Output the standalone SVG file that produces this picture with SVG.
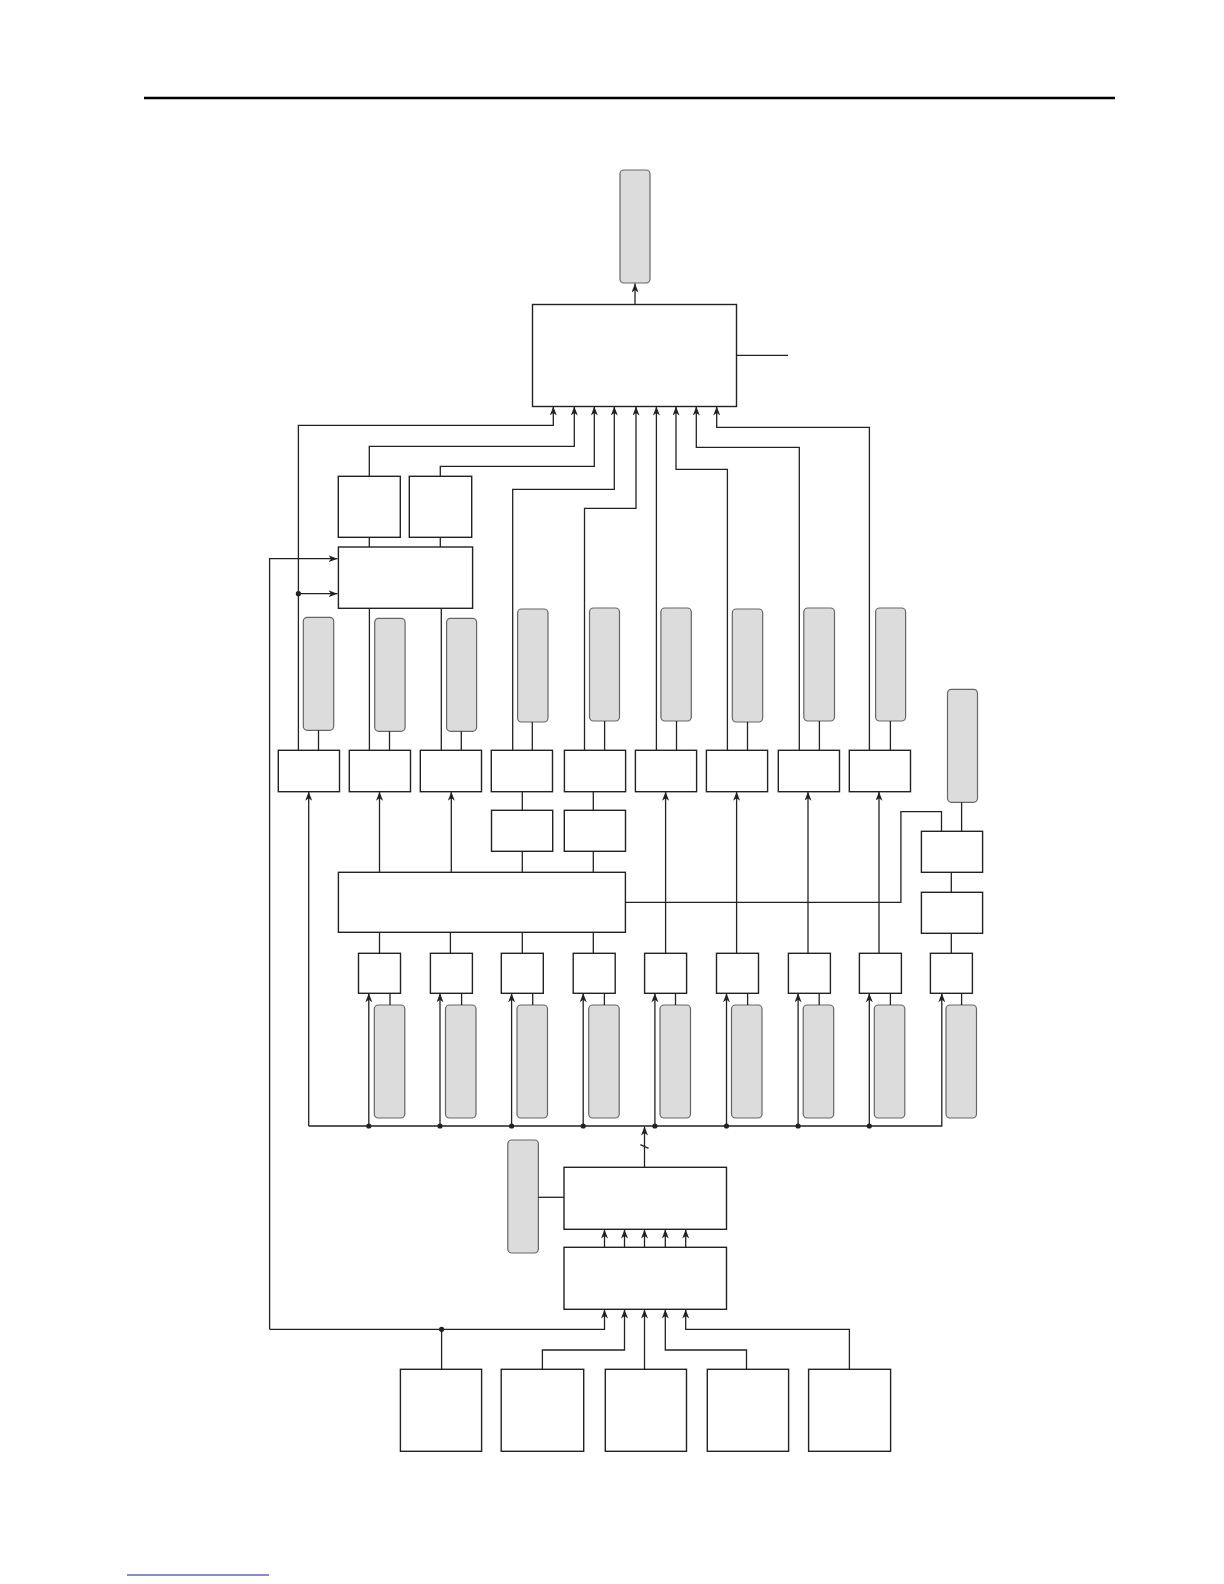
<svg xmlns="http://www.w3.org/2000/svg" width="1224" height="1584" viewBox="0 0 1224 1584">
<defs>
<style>
.box{fill:#fff;stroke:#222;stroke-width:1.4}
.gray{fill:#dcdcdc;stroke:#666;stroke-width:1.2}
.ln{fill:none;stroke:#222;stroke-width:1.3}
.arr{fill:none;stroke:#222;stroke-width:1.3;marker-end:url(#ah)}
.dot{fill:#222}
</style>
<marker id="ah" markerUnits="userSpaceOnUse" markerWidth="10" markerHeight="8" refX="9" refY="3.5" orient="auto">
<path d="M0,0 L9,3.5 L0,7 L2.5,3.5 z" fill="#222"/>
</marker>
</defs>
<rect width="1224" height="1584" fill="#fff"/>
<line x1="144" y1="98" x2="1115" y2="98" stroke="#000" stroke-width="2.5"/>
<line x1="127" y1="1575" x2="269" y2="1575" stroke="#1a1a8c" stroke-width="1.2"/>

<g id="nodes">
<rect id="g0" class="gray" x="620" y="170" width="30" height="113" rx="4"/>
<rect id="main" class="box" x="532.5" y="304.5" width="204" height="102"/>
<rect id="boxA" class="box" x="338.3" y="476.3" width="62" height="61"/>
<rect id="boxB" class="box" x="409.3" y="476.3" width="62.4" height="61"/>
<rect id="boxC" class="box" x="338.4" y="547" width="134.2" height="61.3"/>
<g id="grayRow1">
<rect id="g1" class="gray" x="303.3" y="617.3" width="30.4" height="113" rx="4"/>
<rect id="g2" class="gray" x="374.7" y="618.3" width="30.4" height="113" rx="4"/>
<rect id="g3" class="gray" x="446.6" y="618.3" width="30" height="113" rx="4"/>
<rect id="g4" class="gray" x="517.6" y="609" width="30.4" height="113" rx="4"/>
<rect id="g5" class="gray" x="589.5" y="608" width="30" height="113" rx="4"/>
<rect id="g6" class="gray" x="660.9" y="608" width="30.4" height="113" rx="4"/>
<rect id="g7" class="gray" x="732.3" y="609" width="30.4" height="113" rx="4"/>
<rect id="g8" class="gray" x="803.8" y="608" width="30.7" height="113" rx="4"/>
<rect id="g9" class="gray" x="875.6" y="608" width="30" height="113" rx="4"/>
<rect id="gR" class="gray" x="947.5" y="689.3" width="30" height="113" rx="4"/>
</g>
<g id="upperRow">
<rect id="u1" class="box" x="278.3" y="750.3" width="61.2" height="41.4"/>
<rect id="u2" class="box" x="349.3" y="750.3" width="61.2" height="41.4"/>
<rect id="u3" class="box" x="420.3" y="750.3" width="61.2" height="41.4"/>
<rect id="u4" class="box" x="491.3" y="750.3" width="61.2" height="41.4"/>
<rect id="u5" class="box" x="564.4" y="750.3" width="61.2" height="41.4"/>
<rect id="u6" class="box" x="635.4" y="750.3" width="61.2" height="41.4"/>
<rect id="u7" class="box" x="706.4" y="750.3" width="61.2" height="41.4"/>
<rect id="u8" class="box" x="778.3" y="750.3" width="61.2" height="41.4"/>
<rect id="u9" class="box" x="849.3" y="750.3" width="61.2" height="41.4"/>
</g>
<rect id="u4b" class="box" x="491.5" y="810.3" width="61.2" height="41"/>
<rect id="u5b" class="box" x="564.3" y="810.3" width="61.2" height="41"/>
<rect id="boxD" class="box" x="338.4" y="872.3" width="287" height="60"/>
<rect id="boxE" class="box" x="921.4" y="831.3" width="61.2" height="41"/>
<rect id="boxF" class="box" x="921.4" y="892.3" width="61.2" height="41"/>
<g id="lowerRow">
<rect id="l1" class="box" x="358.5" y="953.3" width="42" height="40"/>
<rect id="l2" class="box" x="430.4" y="953.3" width="42" height="40"/>
<rect id="l3" class="box" x="501.3" y="953.3" width="42" height="40"/>
<rect id="l4" class="box" x="573.2" y="953.3" width="42" height="40"/>
<rect id="l5" class="box" x="644.6" y="953.3" width="42" height="40"/>
<rect id="l6" class="box" x="716.5" y="953.3" width="42" height="40"/>
<rect id="l7" class="box" x="788.4" y="953.3" width="42" height="40"/>
<rect id="l8" class="box" x="859.4" y="953.3" width="42" height="40"/>
<rect id="l9" class="box" x="930.4" y="953.3" width="42" height="40"/>
</g>
<g id="grayRow2">
<rect id="lg1" class="gray" x="374.3" y="1005" width="30.5" height="113" rx="4"/>
<rect id="lg2" class="gray" x="445.5" y="1005" width="30.5" height="113" rx="4"/>
<rect id="lg3" class="gray" x="517" y="1005" width="30.5" height="113" rx="4"/>
<rect id="lg4" class="gray" x="588.7" y="1005" width="30.5" height="113" rx="4"/>
<rect id="lg5" class="gray" x="660" y="1005" width="30.5" height="113" rx="4"/>
<rect id="lg6" class="gray" x="731.5" y="1005" width="30.5" height="113" rx="4"/>
<rect id="lg7" class="gray" x="803.2" y="1005" width="30.5" height="113" rx="4"/>
<rect id="lg8" class="gray" x="874.3" y="1005" width="30.5" height="113" rx="4"/>
<rect id="lg9" class="gray" x="946" y="1005" width="30.5" height="113" rx="4"/>
</g>
<rect id="gH" class="gray" x="507.8" y="1140" width="30.6" height="113" rx="4"/>
<rect id="boxH" class="box" x="564" y="1167.3" width="162.5" height="62"/>
<rect id="boxI" class="box" x="564" y="1247.3" width="162.5" height="62"/>
<rect id="j1" class="box" x="400.4" y="1369.3" width="81.2" height="82"/>
<rect id="j2" class="box" x="501.2" y="1369.3" width="82.5" height="82"/>
<rect id="j3" class="box" x="605.3" y="1369.3" width="81.2" height="82"/>
<rect id="j4" class="box" x="707.3" y="1369.3" width="81.3" height="82"/>
<rect id="j5" class="box" x="808.6" y="1369.3" width="82" height="82"/>
</g>

<g id="connectors">
<line class="arr" x1="635" y1="304.5" x2="635" y2="283.5"/>
<line class="ln" x1="736.5" y1="355.3" x2="788" y2="355.3"/>
<polyline class="arr" points="298.4,750.3 298.4,425.3 553.3,425.3 553.3,406.5"/>
<polyline class="arr" points="369.3,476.3 369.3,446.3 574.3,446.3 574.3,406.5"/>
<polyline class="arr" points="440.3,476.3 440.3,466.3 594.3,466.3 594.3,406.5"/>
<polyline class="arr" points="512.7,750.3 512.7,489.3 614.3,489.3 614.3,406.5"/>
<polyline class="arr" points="584.5,750.3 584.5,508.3 636,508.3 636,406.5"/>
<line class="arr" x1="656.4" y1="750.3" x2="656.4" y2="406.5"/>
<polyline class="arr" points="727.4,750.3 727.4,469.3 676,469.3 676,406.5"/>
<polyline class="arr" points="799.3,750.3 799.3,447.3 696.3,447.3 696.3,406.5"/>
<polyline class="arr" points="869.4,750.3 869.4,427.3 716.7,427.3 716.7,406.5"/>
<line class="ln" x1="369.3" y1="537.3" x2="369.3" y2="547"/>
<line class="ln" x1="440.3" y1="537.3" x2="440.3" y2="547"/>
<line class="ln" x1="369.4" y1="608.3" x2="369.4" y2="750.3"/>
<line class="ln" x1="441.3" y1="608.3" x2="441.3" y2="750.3"/>
<line class="ln" x1="318.5" y1="730.3" x2="318.5" y2="750.3"/>
<line class="ln" x1="389.5" y1="731.3" x2="389.5" y2="750.3"/>
<line class="ln" x1="461.3" y1="731.3" x2="461.3" y2="750.3"/>
<line class="ln" x1="532.3" y1="722" x2="532.3" y2="750.3"/>
<line class="ln" x1="604.6" y1="721" x2="604.6" y2="750.3"/>
<line class="ln" x1="676.5" y1="721" x2="676.5" y2="750.3"/>
<line class="ln" x1="747.5" y1="722" x2="747.5" y2="750.3"/>
<line class="ln" x1="819.4" y1="721" x2="819.4" y2="750.3"/>
<line class="ln" x1="890.4" y1="721" x2="890.4" y2="750.3"/>
<polyline class="arr" points="269.6,1329.3 269.6,558.7 337.5,558.7"/>
<line class="arr" x1="298.4" y1="593.7" x2="337.5" y2="593.7"/>
<circle class="dot" cx="298.4" cy="593.7" r="2.6"/>
<line class="ln" x1="522.3" y1="791.7" x2="522.3" y2="810.3"/>
<line class="ln" x1="522.3" y1="851.3" x2="522.3" y2="872.3"/>
<line class="ln" x1="593.3" y1="791.7" x2="593.3" y2="810.3"/>
<line class="ln" x1="593.3" y1="851.3" x2="593.3" y2="872.3"/>
<line class="arr" x1="379.5" y1="872.3" x2="379.5" y2="791.7"/>
<line class="arr" x1="451.3" y1="872.3" x2="451.3" y2="791.7"/>
<polyline class="ln" points="625.4,902.3 900.9,902.3 900.9,811.7 941.5,811.7 941.5,831.3"/>
<line class="ln" x1="961.6" y1="802.3" x2="961.6" y2="831.3"/>
<line class="ln" x1="951.3" y1="872.3" x2="951.3" y2="892.3"/>
<line class="ln" x1="951.3" y1="933.3" x2="951.3" y2="953.3"/>
<line class="ln" x1="379.5" y1="932.3" x2="379.5" y2="953.3"/>
<line class="ln" x1="450.4" y1="932.3" x2="450.4" y2="953.3"/>
<line class="ln" x1="522.3" y1="932.3" x2="522.3" y2="953.3"/>
<line class="ln" x1="593.3" y1="932.3" x2="593.3" y2="953.3"/>
<line class="arr" x1="665.6" y1="953.3" x2="665.6" y2="791.7"/>
<line class="arr" x1="736.6" y1="953.3" x2="736.6" y2="791.7"/>
<line class="arr" x1="808" y1="953.3" x2="808" y2="791.7"/>
<line class="arr" x1="879" y1="953.3" x2="879" y2="791.7"/>
<polyline class="arr" points="308.7,1126 308.7,791.7"/>
<polyline class="arr" points="308.7,1126 941.8,1126 941.8,993.3"/>
<line class="arr" x1="368.8" y1="1126" x2="368.8" y2="993.3"/>
<line class="arr" x1="440" y1="1126" x2="440" y2="993.3"/>
<line class="arr" x1="511.6" y1="1126" x2="511.6" y2="993.3"/>
<line class="arr" x1="583.2" y1="1126" x2="583.2" y2="993.3"/>
<line class="arr" x1="654.9" y1="1126" x2="654.9" y2="993.3"/>
<line class="arr" x1="726.5" y1="1126" x2="726.5" y2="993.3"/>
<line class="arr" x1="798.1" y1="1126" x2="798.1" y2="993.3"/>
<line class="arr" x1="869.3" y1="1126" x2="869.3" y2="993.3"/>
<circle class="dot" cx="368.8" cy="1126" r="2.6"/>
<circle class="dot" cx="440" cy="1126" r="2.6"/>
<circle class="dot" cx="511.6" cy="1126" r="2.6"/>
<circle class="dot" cx="583.2" cy="1126" r="2.6"/>
<circle class="dot" cx="654.9" cy="1126" r="2.6"/>
<circle class="dot" cx="726.5" cy="1126" r="2.6"/>
<circle class="dot" cx="798.1" cy="1126" r="2.6"/>
<circle class="dot" cx="869.3" cy="1126" r="2.6"/>
<line class="ln" x1="390" y1="993.3" x2="390" y2="1005"/>
<line class="ln" x1="461.6" y1="993.3" x2="461.6" y2="1005"/>
<line class="ln" x1="532.7" y1="993.3" x2="532.7" y2="1005"/>
<line class="ln" x1="604.4" y1="993.3" x2="604.4" y2="1005"/>
<line class="ln" x1="675.5" y1="993.3" x2="675.5" y2="1005"/>
<line class="ln" x1="747.6" y1="993.3" x2="747.6" y2="1005"/>
<line class="ln" x1="819.2" y1="993.3" x2="819.2" y2="1005"/>
<line class="ln" x1="890.4" y1="993.3" x2="890.4" y2="1005"/>
<line class="ln" x1="961.6" y1="993.3" x2="961.6" y2="1005"/>
<line class="arr" x1="644.5" y1="1167.3" x2="644.5" y2="1126.5"/>
<line class="ln" x1="640.4" y1="1144.7" x2="648.6" y2="1148.3" stroke-width="1"/>
<line class="ln" x1="538.4" y1="1197.3" x2="564" y2="1197.3"/>
<line class="arr" x1="604.5" y1="1247.3" x2="604.5" y2="1229.5"/>
<line class="arr" x1="624.5" y1="1247.3" x2="624.5" y2="1229.5"/>
<line class="arr" x1="644.5" y1="1247.3" x2="644.5" y2="1229.5"/>
<line class="arr" x1="665.3" y1="1247.3" x2="665.3" y2="1229.5"/>
<line class="arr" x1="685.7" y1="1247.3" x2="685.7" y2="1229.5"/>
<polyline class="arr" points="269.6,1329.3 604.5,1329.3 604.5,1309.5"/>
<line class="ln" x1="441.6" y1="1329.3" x2="441.6" y2="1369.3"/>
<circle class="dot" cx="441.6" cy="1329.3" r="2.6"/>
<polyline class="arr" points="542.4,1369.3 542.4,1350 624.5,1350 624.5,1309.5"/>
<line class="arr" x1="644.5" y1="1369.3" x2="644.5" y2="1309.5"/>
<polyline class="arr" points="746.5,1369.3 746.5,1350 665.3,1350 665.3,1309.5"/>
<polyline class="arr" points="849.4,1369.3 849.4,1329.3 685.7,1329.3 685.7,1309.5"/>
</g>
</svg>
